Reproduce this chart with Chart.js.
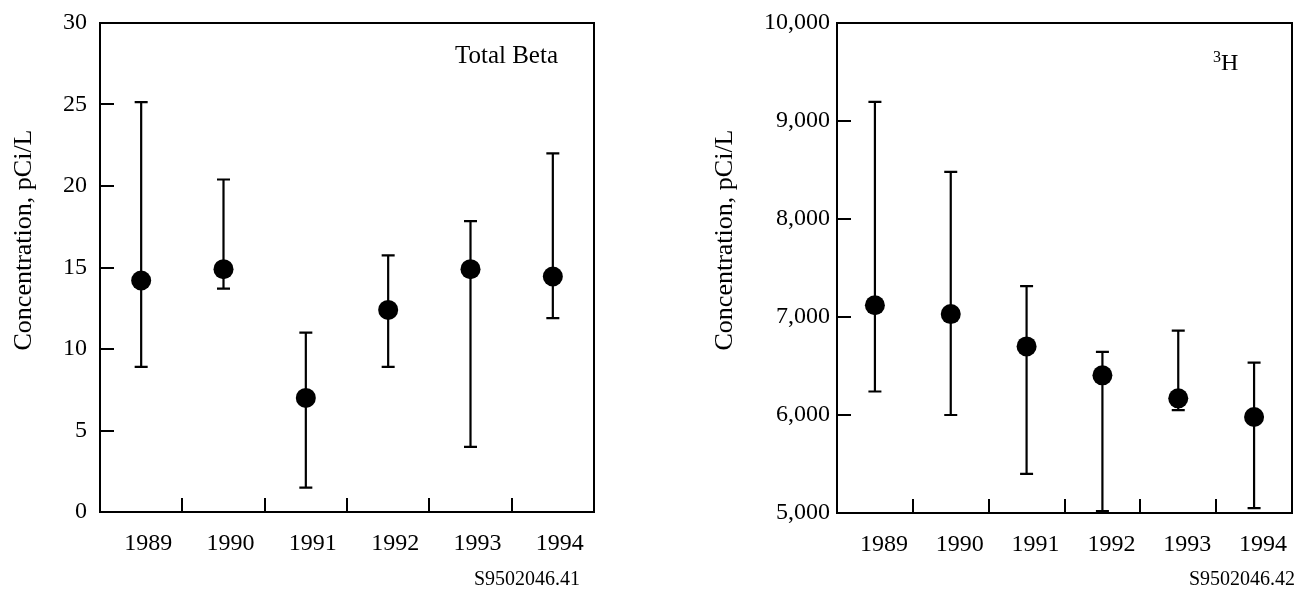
<!DOCTYPE html>
<html>
<head>
<meta charset="utf-8">
<script src="https://cdn.jsdelivr.net/npm/chart.js@4/dist/chart.umd.min.js"></script>
<style>
  html, body { margin: 0; padding: 0; background: #fff; }
  #wrap { position: relative; width: 1302px; height: 590px; overflow: hidden; }
  .panel { position: absolute; top: 0; width: 651px; height: 590px; }
  #left { left: 0; }
  #right { left: 651px; }
</style>
</head>
<body>
<div id="wrap">
  <div class="panel" id="left"><canvas id="betaChart"></canvas></div>
  <div class="panel" id="right"><canvas id="tritiumChart"></canvas></div>
</div>
<script>
// Sampling years shared by both panels
const years = ['1989', '1990', '1991', '1992', '1993', '1994'];

// Total beta concentration, pCi/L: mean with min/max range
const betaMean = [14.2, 14.9, 7.0, 12.4, 14.9, 14.45];
const betaLow  = [8.9, 13.7, 1.5, 8.9, 4.0, 11.9];
const betaHigh = [25.15, 20.4, 11.0, 15.75, 17.85, 22.0];
const betaTicks = [0, 5, 10, 15, 20, 25, 30];

// Tritium concentration, pCi/L: mean with min/max range
const tritiumMean = [7120, 7030, 6700, 6405, 6170, 5980];
const tritiumLow  = [6240, 6000, 5400, 5020, 6050, 5050];
const tritiumHigh = [9195, 8480, 7315, 6645, 6860, 6535];
const tritiumTicks = [5000, 6000, 7000, 8000, 9000, 10000];

const SERIF = '"Liberation Serif", "Times New Roman", Times, serif';
const INK = '#000';

// Vertical range bars with end caps, drawn under the points
function rangeBars(low, high) {
  return {
    id: 'rangeBars',
    beforeDatasetsDraw(chart) {
      const { ctx, scales: { x, y } } = chart;
      ctx.save();
      ctx.strokeStyle = INK;
      ctx.lineWidth = 2.2;
      ctx.lineCap = 'butt';
      low.forEach((lo, i) => {
        const px = x.getPixelForValue(i);
        const yl = y.getPixelForValue(lo);
        const yh = y.getPixelForValue(high[i]);
        ctx.beginPath();
        ctx.moveTo(px, yl); ctx.lineTo(px, yh);
        ctx.moveTo(px - 6.5, yl); ctx.lineTo(px + 6.5, yl);
        ctx.moveTo(px - 6.5, yh); ctx.lineTo(px + 6.5, yh);
        ctx.stroke();
      });
      ctx.restore();
    }
  };
}

// Frame, inward tick marks, rotated axis title, panel label and figure number
function frame(cfg) {
  return {
    id: 'frame',
    afterDraw(chart) {
      const { ctx, chartArea: a, scales: { x, y } } = chart;
      ctx.save();
      ctx.strokeStyle = INK;
      ctx.fillStyle = INK;
      ctx.lineWidth = 2;
      ctx.strokeRect(a.left, a.top, a.right - a.left, a.bottom - a.top);

      ctx.beginPath();
      y.ticks.forEach(t => {
        if (t.value <= y.min || t.value >= y.max) return;
        const py = Math.round(y.getPixelForValue(t.value));
        ctx.moveTo(a.left, py); ctx.lineTo(a.left + 14, py);
      });
      for (let i = 0; i < years.length - 1; i++) {
        const px = Math.round(x.getPixelForValue(i + 0.5));
        ctx.moveTo(px, a.bottom); ctx.lineTo(px, a.bottom - 14);
      }
      ctx.stroke();

      // y-axis title
      ctx.save();
      ctx.translate(cfg.titleX, 240);
      ctx.rotate(-Math.PI / 2);
      ctx.font = '26px ' + SERIF;
      ctx.textAlign = 'center';
      ctx.textBaseline = 'alphabetic';
      ctx.fillText('Concentration, pCi/L', 0, 0);
      ctx.restore();

      cfg.drawLabel(ctx);

      ctx.font = '20px ' + SERIF;
      ctx.textAlign = 'right';
      ctx.textBaseline = 'alphabetic';
      ctx.fillText(cfg.figNo, cfg.figRight, 585);
      ctx.restore();
    }
  };
}

function noOverhang(s) {
  s.paddingTop = 0; s.paddingBottom = 0;
  s.paddingLeft = 0; s.paddingRight = 0;
}

function makeChart(id, p) {
  return new Chart(document.getElementById(id), {
    type: 'line',
    data: {
      labels: years,
      datasets: [{
        data: p.mean,
        showLine: false,
        pointRadius: 10,
        pointHoverRadius: 10,
        pointBackgroundColor: INK,
        pointBorderColor: INK,
        pointBorderWidth: 0,
        clip: false
      }]
    },
    options: {
      responsive: true,
      maintainAspectRatio: false,
      animation: false,
      events: [],
      layout: { padding: { top: 23, right: p.padRight, left: 0, bottom: 0 } },
      plugins: { legend: { display: false }, tooltip: { enabled: false } },
      scales: {
        x: {
          type: 'category',
          offset: true,
          grid: { display: false, drawTicks: false, offset: true },
          border: { display: false },
          ticks: {
            color: INK,
            font: { family: SERIF, size: 24 },
            padding: 17,
            labelOffset: p.labelShift,
            maxRotation: 0,
            autoSkip: false
          },
          afterFit(s) { s.height = p.xHeight; noOverhang(s); }
        },
        y: {
          type: 'linear',
          min: p.ticks[0],
          max: p.ticks[p.ticks.length - 1],
          grid: { display: false, drawTicks: false },
          border: { display: false },
          afterBuildTicks(s) { s.ticks = p.ticks.map(v => ({ value: v })); },
          ticks: {
            color: INK,
            font: { family: SERIF, size: 24 },
            padding: p.yPad,
            callback: v => v.toLocaleString('en-US')
          },
          afterFit(s) { s.width = p.yWidth; noOverhang(s); }
        }
      }
    },
    plugins: [rangeBars(p.low, p.high), frame(p.frame)]
  });
}

makeChart('betaChart', {
  mean: betaMean, low: betaLow, high: betaHigh, ticks: betaTicks,
  yWidth: 100, yPad: 13, xHeight: 78, padRight: 57, labelShift: 7,
  frame: {
    titleX: 31,
    figNo: 'S9502046.41',
    figRight: 580,
    drawLabel(ctx) {
      ctx.font = '25px ' + SERIF;
      ctx.textAlign = 'right';
      ctx.textBaseline = 'alphabetic';
      ctx.fillText('Total Beta', 558, 63);
    }
  }
});

makeChart('tritiumChart', {
  mean: tritiumMean, low: tritiumLow, high: tritiumHigh, ticks: tritiumTicks,
  yWidth: 186, yPad: 7, xHeight: 77, padRight: 7, labelShift: 9,
  frame: {
    titleX: 81,
    figNo: 'S9502046.42',
    figRight: 644,
    drawLabel(ctx) {
      ctx.textAlign = 'left';
      ctx.textBaseline = 'alphabetic';
      ctx.font = '16px ' + SERIF;
      ctx.fillText('3', 562, 62);
      ctx.font = '24px ' + SERIF;
      ctx.fillText('H', 570, 70);
    }
  }
});
</script>
</body>
</html>
